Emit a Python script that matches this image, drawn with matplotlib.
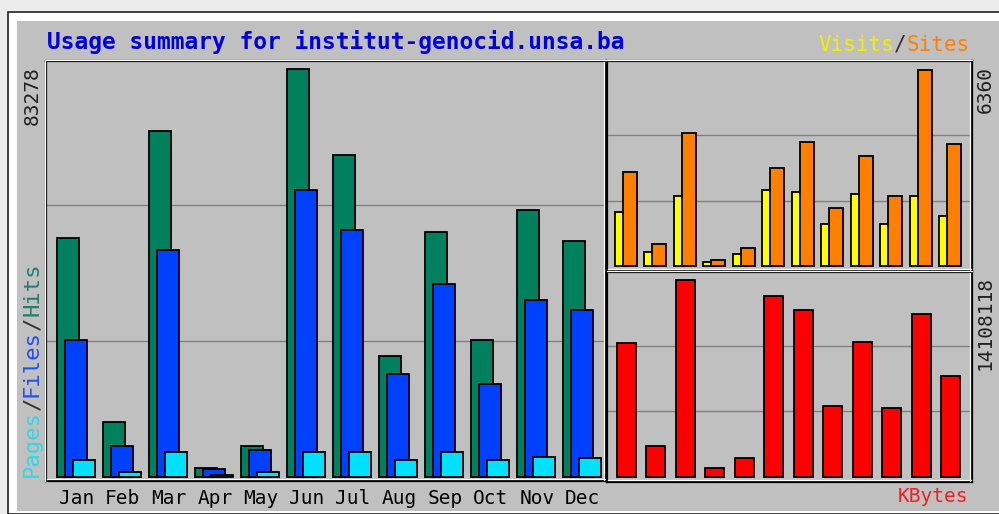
import matplotlib
matplotlib.use("Agg")
import matplotlib.pyplot as plt
from matplotlib.lines import Line2D
from matplotlib.patches import Rectangle

months = ["Jan", "Feb", "Mar", "Apr", "May", "Jun",
          "Jul", "Aug", "Sep", "Oct", "Nov", "Dec"]

hits = [48780, 11230, 70620, 1840, 6330, 83278,
        65720, 24700, 50010, 27960, 54500, 48170]
files = [27960, 6330, 46330, 1700, 5510, 58580,
         50420, 21020, 39390, 18980, 36130, 34090]
pages = [3470, 1020, 5100, 400, 1020, 5100,
         5100, 3470, 5100, 3470, 4080, 3880]

visits = [1752, 454, 2271, 130, 389, 2466,
          2401, 1363, 2336, 1363, 2271, 1622]
sites = [3050, 714, 4316, 195, 584, 3180,
         4024, 1882, 3569, 2271, 6360, 3959]

kbytes = [9596000, 2220000, 14108118, 644500, 1361000, 12962000,
          11960000, 5085000, 9668000, 4941000, 11673000, 7233000]

W, H = 999, 514
MONO = "DejaVu Sans Mono"
GRAY = "#c0c0c0"
GRID = "#808080"


def px(x, y):
    """pixel position (top-left origin) -> figure fraction"""
    return x / W, 1 - y / H


def line(x0, y0, x1, y1, color="white"):
    fig.add_artist(Line2D([x0 / W, x1 / W], [1 - y0 / H, 1 - y1 / H],
                          transform=fig.transFigure, color=color, lw=0.9, zorder=5))


def panel(fig, left, top, right, bottom, base, vmax, vmax_top, unit, x0):
    """axes placed by pixel box; y scaled so vmax lands at vmax_top px and 0 at base px"""
    ax = fig.add_axes([left / W, 1 - bottom / H, (right - left) / W, (bottom - top) / H])
    ax.set_facecolor(GRAY)
    per_px = vmax / (base - vmax_top)
    ax.set_ylim(-(bottom - base) * per_px, (base - top) * per_px)
    ax.set_xlim(-x0 / unit, -x0 / unit + (right - left) / unit)
    for frac in (1 / 3, 2 / 3):
        ax.axhline(vmax * frac, color=GRID, lw=1.0, zorder=0)
    ax.set_yticks([])
    ax.set_xticks([])
    for s in ax.spines.values():
        s.set_color("black")
        s.set_linewidth(1.6)
    # light bevel: above the top, inside the right and bottom
    line(left, top - 1.5, right, top - 1.5)
    line(right - 2, top + 1, right - 2, bottom - 1)
    line(left + 1, bottom - 2, right - 1, bottom - 2)
    return ax


def colored_run(x, y, pieces, size, vertical=False):
    """monospace text made of coloured pieces, laid one after another"""
    cell = 0.602 * size * 100 / 72
    n = 0
    for s, c in pieces:
        if vertical:
            fig.text(*px(x, y - n * cell), s, color=c, fontsize=size, family=MONO,
                     rotation=90, rotation_mode="anchor", ha="left", va="center")
        else:
            fig.text(*px(x + n * cell, y), s, color=c, fontsize=size, family=MONO,
                     ha="left", va="center")
        n += len(s)


fig = plt.figure(figsize=(W / 100, H / 100), dpi=100)
fig.patch.set_facecolor("#ececec")

# frame: black line, white bevel, gray body
fig.add_artist(Rectangle(px(8, 514), 1, (514 - 12) / H, transform=fig.transFigure,
                         facecolor="white", edgecolor="#202020", lw=1.2, zorder=-2))
fig.add_artist(Rectangle(px(17, 511), 1, (511 - 21) / H, transform=fig.transFigure,
                         facecolor=GRAY, edgecolor="none", zorder=-1))

bar_kw = dict(edgecolor="black", linewidth=1.3, align="edge")
idx = range(len(months))

# main panel: hits / files / pages
unit = 46.0
ax = panel(fig, 46, 61, 606, 481, 477, max(hits), 69, unit, 11)
line(44.5, 60, 44.5, 481)
ax.bar(idx, hits, width=22 / unit, color="#00805c", **bar_kw)
ax.bar([i + 8 / unit for i in idx], files, width=22 / unit, color="#0040ff", **bar_kw)
ax.bar([i + 16 / unit for i in idx], pages, width=22 / unit, color="#00e0ff", **bar_kw)
ax.set_xticks([i + 0.43 for i in idx])
ax.set_xticklabels(months, family=MONO, fontsize=14)
ax.tick_params(axis="x", length=0, pad=6)

# top right: visits / sites
unit = 29.45
ax2 = panel(fig, 607, 61, 972, 271, 266, max(sites), 70, unit, 8)
ax2.bar(idx, visits, width=14 / unit, color="#ffff00", **bar_kw)
ax2.bar([i + 8 / unit for i in idx], sites, width=14 / unit, color="#ff8000", **bar_kw)

# bottom right: kbytes
ax3 = panel(fig, 607, 272, 972, 482, 477, max(kbytes), 280, unit, 10)
ax3.bar(idx, kbytes, width=19 / unit, color="#ff0000", **bar_kw)

# texts
fig.text(*px(47, 42), "Usage summary for institut-genocid.unsa.ba", color="#0000e0",
         fontsize=16.5, fontweight="bold", family=MONO, va="center", ha="left")

colored_run(969 - 12 * 0.602 * 15 * 100 / 72, 45,
            [("Visits", "#f0f000"), ("/", "#303030"), ("Sites", "#ff8000")], 15)
colored_run(32, 477,
            [("Pages", "#30d8e8"), ("/", "#303030"), ("Files", "#2050f0"),
             ("/", "#303030"), ("Hits", "#208068")], 16, vertical=True)

fig.text(*px(32, 66), str(max(hits)), color="#202020", fontsize=14, family=MONO,
         rotation=90, rotation_mode="anchor", ha="right", va="center")
fig.text(*px(985, 66), str(max(sites)), color="#202020", fontsize=14, family=MONO,
         rotation=90, rotation_mode="anchor", ha="right", va="center")
fig.text(*px(985, 276), str(max(kbytes)), color="#202020", fontsize=14, family=MONO,
         rotation=90, rotation_mode="anchor", ha="right", va="center")
fig.text(*px(968, 497), "KBytes", color="#f02020", fontsize=14, family=MONO,
         va="center", ha="right")

fig.savefig("out.png", dpi=100, facecolor=fig.get_facecolor())
